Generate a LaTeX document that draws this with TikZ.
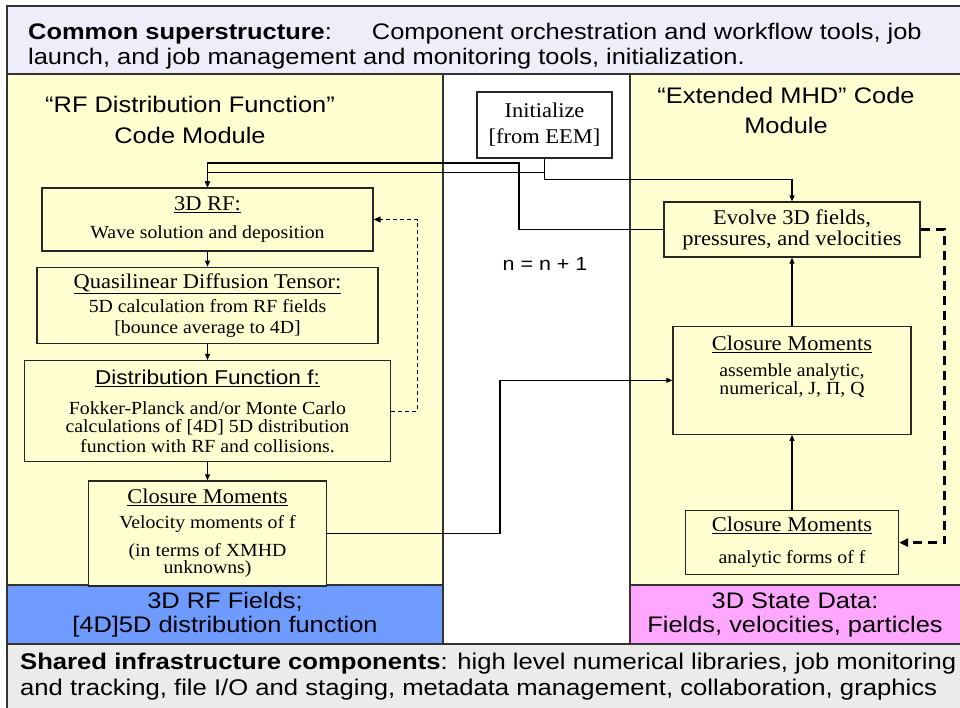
\documentclass[tikz,border=0pt]{standalone}
\usepackage{fontspec}
\setmainfont[FakeStretch=1.07]{Liberation Serif}
\setsansfont[FakeStretch=1.13]{Liberation Sans}
\usetikzlibrary{positioning, arrows.meta}

\definecolor{bannerlav}{HTML}{EEEEFA}
\definecolor{modyellow}{HTML}{FFFFD2}
\definecolor{rfblue}{HTML}{6F9BFF}
\definecolor{statepink}{HTML}{FFA6FF}
\definecolor{infragray}{HTML}{EBEBEB}

\newcommand{\bxtitle}[1]{{\fontsize{21bp}{21bp}\selectfont\underline{#1}}}

\begin{document}
\begin{tikzpicture}[x=1bp, y=-1bp, node distance=15bp,
  panel/.style={draw=black!80, line width=1.2bp},
  box/.style={draw=black!85, line width=1.3bp, fill=modyellow, align=center, inner sep=0pt,
    font=\fontsize{18.5bp}{19bp}\selectfont},
  bigsans/.style={font=\sffamily\fontsize{22.5bp}{25bp}\selectfont, inner sep=0pt},
  flow/.style={line width=1.1bp, -{Triangle[length=6bp,width=5bp]}},
  loopback/.style={line width=1.2bp, dash pattern=on 4bp off 3bp, -{Triangle[length=7bp,width=6bp]}},
  feedback/.style={line width=2.8bp, dash pattern=on 9bp off 6bp, -{Triangle[length=9bp,width=8bp]}}]
\useasboundingbox (0,0) rectangle (960,708);

% panels
\draw[panel, fill=bannerlav] (7,6) rectangle (966,74);
\draw[panel, fill=modyellow] (7,74) rectangle (443,585);
\draw[panel, fill=white] (443,74) rectangle (630,644);
\draw[panel, fill=modyellow] (630,74) rectangle (966,585);
\draw[panel, fill=rfblue] (7,585) rectangle (443,644);
\draw[panel, fill=statepink] (630,585) rectangle (966,644);
\draw[panel, fill=infragray] (7,644) rectangle (966,716);

% banner texts
\node (common) [bigsans, anchor=north west, align=left] at (28,23)
  {\textbf{Common superstructure}:\hspace{40bp}Component orchestration and workflow tools, job\\
   launch, and job management and monitoring tools, initialization.};
\node (shared) [bigsans, font=\sffamily\fontsize{22.7bp}{26bp}\selectfont, anchor=north west, align=left] at (20,653)
  {\textbf{Shared infrastructure components}: high level numerical libraries, job monitoring\\
   and tracking, file I/O and staging, metadata management, collaboration, graphics};

% module titles
\node (rfmod) [bigsans, font=\sffamily\fontsize{22.5bp}{31bp}\selectfont, align=center, anchor=north] at (190,96)
  {“RF Distribution Function”\\Code Module};
\node (mhdmod) [bigsans, font=\sffamily\fontsize{22.5bp}{30bp}\selectfont, align=center, anchor=north] at (786,87)
  {“Extended MHD” Code\\Module};
\node (rffields) [bigsans, font=\sffamily\fontsize{22.5bp}{24bp}\selectfont, align=center] at (225,615)
  {3D RF Fields;\\{[4D]}5D distribution function};
\node (statedata) [bigsans, font=\sffamily\fontsize{22.5bp}{24bp}\selectfont, align=center] at (795,615)
  {3D State Data:\\Fields, velocities, particles};
\node (step) [font=\sffamily\fontsize{19bp}{19bp}\selectfont, anchor=base] at (545,270) {n = n + 1};

% RF distribution function module
\node (rf) [box, minimum width=331bp, minimum height=63bp] at (207.5,219.5)
  {\bxtitle{3D RF:}\\[9bp] Wave solution and deposition};
\node (ql) [box, minimum width=341bp, minimum height=76bp, below=15bp of rf]
  {\bxtitle{Quasilinear Diffusion Tensor:}\\[5bp] 5D calculation from RF fields\\[2bp] {[}bounce average to 4D]};
\node (df) [box, minimum width=366bp, minimum height=101bp, below=16bp of ql]
  {{\sffamily\fontsize{20bp}{20bp}\selectfont\underline{Distribution Function f:}}\\[11bp]
   Fokker-Planck and/or Monte Carlo\\[-1bp] calculations of [4D] 5D distribution\\[1bp] function with RF and collisions.};
\node (cml) [box, minimum width=238bp, minimum height=105bp, below=18bp of df]
  {\bxtitle{Closure Moments}\\[6bp] Velocity moments of f\\[9bp] (in terms of XMHD\\[-2bp] unknowns)};

% extended MHD module
\node (init) [box, fill=white, minimum width=135bp, minimum height=66bp,
  font=\fontsize{21bp}{26bp}\selectfont] at (544.5,125) {Initialize\\{[}from EEM]};
\node (evolve) [box, minimum width=256bp, minimum height=55bp,
  font=\fontsize{21bp}{21bp}\selectfont] at (792,229.5) {Evolve 3D fields,\\pressures, and velocities};
\node (cmm) [box, minimum width=238bp, minimum height=108bp, below=68bp of evolve]
  {\bxtitle{Closure Moments}\\[7bp] assemble analytic,\\[-1bp] numerical, J, Π, Q\\[11bp]\mbox{}};
\node (cmb) [box, minimum width=213bp, minimum height=64bp, below=75bp of cmm]
  {\bxtitle{Closure Moments}\\[13bp] analytic forms of f};

\coordinate (jog) at (500,0);
\coordinate (ret) at (519,163);

\draw[flow] (rf) -- (ql);
\draw[flow] (ql) -- (df);
\draw[flow] (df) -- (cml);
\draw[flow] (cml.east) -| (jog |- cmm.west) -- (cmm.west);
\draw[flow] (cmb) -- (cmm);
\draw[flow] (cmm) -- (evolve);
\draw[flow] (evolve.west) -| (ret) -| (rf.north);
\draw[flow] (init.south) -- ++(0,14) -| (rf.north);
\draw[flow] (init.south) -- ++(0,21) -| (evolve.north);
\draw[loopback] (df.east) -- ++(26,0) |- (rf.east);
\draw[feedback] (evolve.east) -- ++(24,0) |- (cmb.east);
\end{tikzpicture}
\end{document}
